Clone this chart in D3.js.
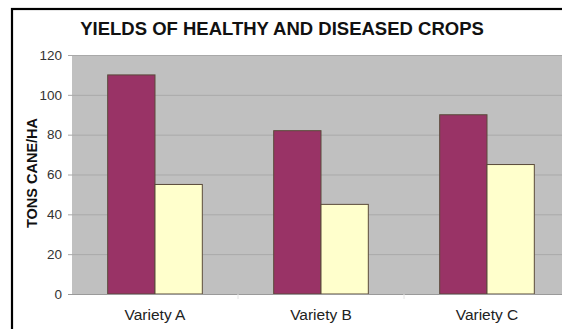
<!DOCTYPE html>
<html>
  <head>
    <meta charset="utf-8" />
    <script src="https://cdn.jsdelivr.net/npm/d3@7"></script>
    <style>
      body { margin: 0; background: #fff; }
      svg { display: block; font-family: 'Liberation Sans', Arial, sans-serif; }
    </style>
  </head>
  <body>
    <svg class="chart"></svg>
    <script>
      const varieties = ["Variety A", "Variety B", "Variety C"]
      const groups = ["healthy", "diseased"]
      const healthy = [110, 82, 90]
      const diseased = [55, 45, 65]
      const y_ticks = [0, 20, 40, 60, 80, 100, 120]

      const width = 562
      const height = 329
      const plot = {left: 72, top: 55, right: 570, bottom: 294}

      const data = varieties.map((v, i) => ({variety: v, healthy: healthy[i], diseased: diseased[i]}))

      const svg = d3.select("svg.chart")
        .attr("width", width)
        .attr("height", height)

      // outer frame, runs off the right and bottom edge
      svg.append("rect")
        .attr("x", 12).attr("y", 9)
        .attr("width", 600).attr("height", 400)
        .attr("fill", "#fff")
        .attr("stroke", "#000")
        .attr("stroke-width", 2.2)

      const x = d3.scaleBand()
        .domain(varieties)
        .range([plot.left, plot.right])
        .paddingInner(0.43)
        .paddingOuter(0.215)

      const x_inner = d3.scaleBand()
        .domain(groups)
        .range([0, x.bandwidth()])

      const y = d3.scaleLinear()
        .domain([0, 120])
        .range([plot.bottom, plot.top])

      const color = d3.scaleOrdinal()
        .domain(groups)
        .range(["#993366", "#ffffcc"])

      svg.append("rect")
        .attr("x", plot.left).attr("y", plot.top)
        .attr("width", plot.right - plot.left).attr("height", plot.bottom - plot.top)
        .attr("fill", "#c0c0c0")

      // gridlines + y axis
      const yAxis = g => g
        .attr("transform", `translate(${plot.left},0)`)
        .call(d3.axisLeft(y).tickValues(y_ticks).tickSize(4).tickPadding(6))
        .call(g => g.select(".domain").remove())
        .call(g => g.selectAll(".tick line").attr("stroke", "#a8a8a8"))
        .call(g => g.selectAll(".tick text")
          .attr("fill", "#333")
          .style("font-size", "13.5px")
          .style("font-family", "'Liberation Sans', Arial, sans-serif"))

      svg.append("g")
        .attr("class", "grid")
        .selectAll("line")
        .data(y_ticks.filter(d => d > 0))
        .join("line")
          .attr("x1", plot.left).attr("x2", plot.right)
          .attr("y1", d => y(d) + 0.5).attr("y2", d => y(d) + 0.5)
          .attr("stroke", "#a9a9a9")
          .attr("stroke-width", 1)

      svg.append("g").attr("class", "y-axis").call(yAxis)

      svg.append("g")
        .selectAll("g")
        .data(data)
        .join("g")
          .attr("transform", d => `translate(${x(d.variety)},0)`)
        .selectAll("rect")
        .data(d => groups.map(k => ({key: k, value: d[k]})))
        .join("rect")
          .attr("x", d => x_inner(d.key))
          .attr("y", d => y(d.value))
          .attr("width", x_inner.bandwidth())
          .attr("height", d => y(0) - y(d.value))
          .attr("fill", d => color(d.key))
          .attr("stroke", "#5a4a3a")
          .attr("stroke-width", 1)

      // baseline
      svg.append("line")
        .attr("x1", plot.left - 4).attr("x2", plot.right)
        .attr("y1", plot.bottom + 0.5).attr("y2", plot.bottom + 0.5)
        .attr("stroke", "#9a9a9a")

      // faint category separators below the axis
      svg.append("g")
        .selectAll("line")
        .data([1, 2])
        .join("line")
          .attr("x1", d => plot.left + d * (plot.right - plot.left) / 3)
          .attr("x2", d => plot.left + d * (plot.right - plot.left) / 3)
          .attr("y1", plot.bottom).attr("y2", plot.bottom + 5)
          .attr("stroke", "#e4e4e4")

      svg.append("g")
        .selectAll("text")
        .data(varieties)
        .join("text")
          .attr("x", d => x(d) + x.bandwidth() / 2)
          .attr("y", 320)
          .attr("text-anchor", "middle")
          .attr("fill", "#222")
          .style("font-size", "15.5px")
          .text(d => d)

      svg.append("text")
        .attr("x", 282)
        .attr("y", 35)
        .attr("text-anchor", "middle")
        .style("font-size", "18.5px")
        .style("font-weight", "bold")
        .attr("fill", "#111")
        .text("YIELDS OF HEALTHY AND DISEASED CROPS")

      svg.append("text")
        .attr("transform", `translate(37,173) rotate(-90)`)
        .attr("text-anchor", "middle")
        .style("font-size", "14.5px")
        .style("font-weight", "bold")
        .attr("fill", "#111")
        .text("TONS CANE/HA")
    </script>
  </body>
</html>
